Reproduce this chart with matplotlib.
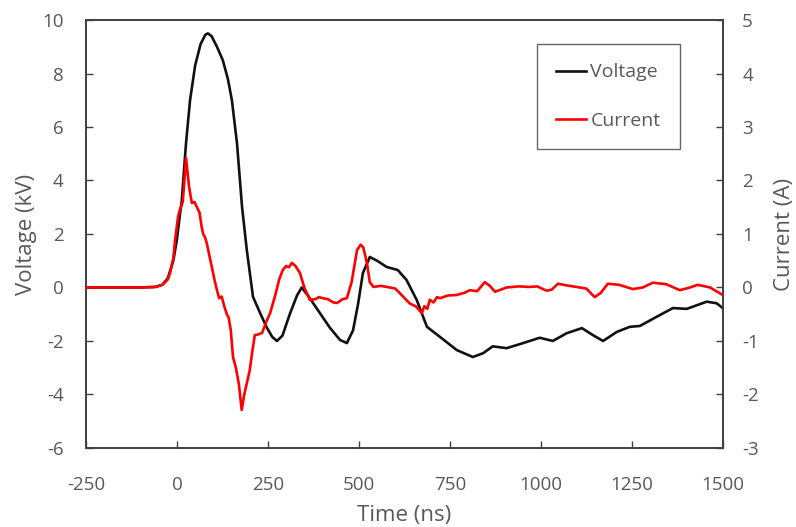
import matplotlib
matplotlib.use('Agg')
import matplotlib.pyplot as plt

# Voltage trace (kV)
v_time = [-250, -100, -60, -40, -25, -10, 0, 8, 13, 25, 36, 50, 65, 78, 85, 95, 110, 126, 140,
          151, 165, 179, 192, 209, 230, 247, 262, 275, 290, 310, 330, 343, 360, 390, 420,
          448, 467, 484, 498, 511, 530, 550, 576, 607, 631, 659, 687, 723, 769, 813, 841,
          868, 906, 951, 997, 1033, 1071, 1113, 1143, 1171, 1209, 1245, 1272, 1319, 1363,
          1401, 1456, 1483, 1500]
voltage = [0.0, 0.0, 0.02, 0.1, 0.35, 1.0, 1.8, 2.7, 3.2, 5.4, 7.0, 8.3, 9.1, 9.45, 9.5, 9.4,
           9.0, 8.5, 7.8, 7.0, 5.4, 3.0, 1.4, -0.35, -1.0, -1.5, -1.85, -2.0, -1.8, -1.0,
           -0.3, 0.0, -0.3, -0.9, -1.5, -1.96, -2.08, -1.6, -0.6, 0.54, 1.14, 1.0, 0.77,
           0.65, 0.28, -0.47, -1.47, -1.85, -2.34, -2.6, -2.46, -2.2, -2.27, -2.08, -1.88,
           -2.0, -1.71, -1.52, -1.78, -2.0, -1.66, -1.47, -1.44, -1.09, -0.77, -0.8, -0.53,
           -0.59, -0.77]

# Current trace (A)
i_time = [-250, -100, -60, -40, -25, -19, -10, -5, 3, 8, 16, 25, 33, 41, 48, 55, 62, 68, 72,
          77, 82, 89, 96, 103, 110, 116, 123, 130, 137, 142, 148, 154, 162, 170, 178, 185,
          192, 200, 207, 214, 222, 234, 245, 256, 270, 281, 291, 300, 308, 316, 326, 338,
          350, 365, 380, 390, 401, 415, 430, 440, 455, 467, 480, 495, 505, 512, 522, 530,
          540, 560, 585, 600, 613, 640, 656, 673, 680, 688, 695, 705, 715, 723, 745, 769,
          790, 805, 825, 846, 860, 874, 906, 940, 969, 990, 1016, 1030, 1047, 1070, 1098,
          1125, 1148, 1165, 1184, 1215, 1253, 1280, 1308, 1345, 1382, 1410, 1431, 1465,
          1500]
current = [0.0, 0.0, 0.01, 0.05, 0.15, 0.27, 0.55, 0.89, 1.32, 1.45, 1.6, 2.42, 1.9, 1.58,
           1.6, 1.5, 1.4, 1.13, 1.0, 0.94, 0.83, 0.6, 0.38, 0.15, -0.05, -0.2, -0.17, -0.35,
           -0.5, -0.56, -0.8, -1.3, -1.5, -1.8, -2.29, -2.0, -1.79, -1.55, -1.2, -0.89,
           -0.88, -0.85, -0.65, -0.48, -0.15, 0.15, 0.33, 0.4, 0.38, 0.46, 0.4, 0.27, 0.0,
           -0.23, -0.22, -0.18, -0.2, -0.22, -0.28, -0.29, -0.22, -0.2, 0.1, 0.7, 0.8, 0.75,
           0.46, 0.1, 0.01, 0.03, 0.0, -0.02, -0.11, -0.3, -0.35, -0.48, -0.35, -0.4, -0.23,
           -0.28, -0.18, -0.2, -0.15, -0.14, -0.1, -0.05, -0.07, 0.1, 0.03, -0.08, 0.0,
           0.02, 0.01, 0.02, -0.06, -0.04, 0.07, 0.04, 0.01, -0.02, -0.18, -0.1, 0.07, 0.05,
           -0.03, 0.0, 0.09, 0.06, -0.05, 0.0, 0.05, 0.0, -0.14]

text_color = '#595959'
frame_color = '#404040'
plt.rcParams['font.family'] = ['Open Sans', 'DejaVu Sans']
plt.rcParams['axes.unicode_minus'] = False

fig = plt.figure(figsize=(7.96, 5.27), dpi=100)
ax = fig.add_axes([0.108, 0.150, 0.800, 0.812])
ax2 = ax.twinx()

lv, = ax.plot(v_time, voltage, color='#111111', linewidth=1.9, label='Voltage', zorder=3)
li, = ax2.plot(i_time, current, color='#ff0000', linewidth=1.9, label='Current', zorder=3)

ax.set_xlim(-250, 1500)
ax.set_ylim(-6, 10)
ax2.set_ylim(-3, 5)
ax.set_xticks(range(-250, 1501, 250))
ax.set_yticks(range(-6, 11, 2))
ax2.set_yticks(range(-3, 6, 1))

ax.set_xlabel('Time (ns)', fontsize=16, color=text_color, labelpad=8)
ax.set_ylabel('Voltage (kV)', fontsize=16, color=text_color, labelpad=4)
ax2.set_ylabel('Current (A)', fontsize=16, color=text_color, labelpad=11)

for a in (ax, ax2):
    a.tick_params(direction='in', length=5, width=1, colors=frame_color,
                  labelcolor=text_color, labelsize=13.5)
    for s in a.spines.values():
        s.set_color(frame_color)
        s.set_linewidth(1.2)
ax.tick_params(axis='x', pad=20)
ax.tick_params(axis='y', pad=16)
ax2.tick_params(axis='y', pad=14)

leg = ax.legend(handles=[lv, li], loc='upper left', bbox_to_anchor=(0.708, 0.944),
                frameon=True, fancybox=False, edgecolor=frame_color, fontsize=14,
                handlelength=1.55, handletextpad=0.2, labelspacing=1.55,
                borderpad=1.0, borderaxespad=0)
for t in leg.get_texts():
    t.set_color(text_color)
leg.get_frame().set_linewidth(1.0)
leg.set_zorder(5)

fig.savefig('out.png', dpi=100)
